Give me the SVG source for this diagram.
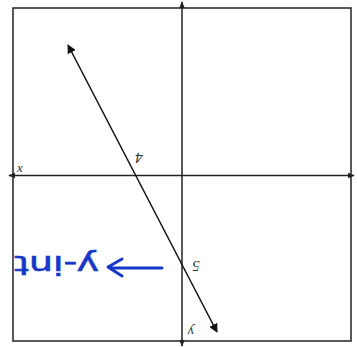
<svg xmlns="http://www.w3.org/2000/svg" width="357" height="347" viewBox="0 0 357 347">
<style>
.ax{stroke:#222;stroke-width:1.5;fill:none}
.lbl{font-family:"Liberation Serif",serif;font-style:italic;fill:#333}
.hand{font-family:"DejaVu Sans",sans-serif;fill:#1638c8;stroke:#1638c8;stroke-width:0.6}
</style>
<defs>
<marker id="ah" viewBox="0 0 10 10" refX="9" refY="5" markerWidth="7" markerHeight="7" orient="auto-start-reverse" markerUnits="userSpaceOnUse">
<path d="M0,1 L10,5 L0,9 z" fill="#222"/>
</marker>
<marker id="bh" viewBox="0 0 10 10" refX="9" refY="5" markerWidth="9" markerHeight="9" orient="auto-start-reverse" markerUnits="userSpaceOnUse">
<path d="M0,0 L10,5 L0,10 z" fill="#111"/>
</marker>
</defs>
<rect x="0" y="0" width="357" height="347" fill="#fff"/>
<g id="frame">
<rect x="13" y="8" width="338" height="333" class="ax" stroke-width="1.3"/>
</g>
<g id="axes">
<line x1="9" y1="175.5" x2="354" y2="175.5" class="ax" marker-start="url(#ah)" marker-end="url(#ah)"/>
<line x1="182" y1="2" x2="182" y2="346" class="ax" marker-start="url(#ah)" marker-end="url(#ah)"/>
</g>
<g id="connectors">
<line x1="68" y1="45" x2="217" y2="332" stroke="#111" stroke-width="1.5" marker-start="url(#bh)" marker-end="url(#bh)"/>
<path d="M162,268 L110,268 M122,259 L108,267 L122,276" stroke="#1638c8" stroke-width="3" fill="none" stroke-linecap="round" stroke-linejoin="round"/>
</g>
<g id="labels">
<text class="lbl" x="17" y="172" font-size="13">x</text>
<text class="lbl" font-size="15" transform="translate(139,153) rotate(180)" text-anchor="middle">4</text>
<text class="lbl" font-size="15" transform="translate(196,261) rotate(180)" text-anchor="middle">5</text>
<text class="lbl" font-size="14" transform="translate(191,327) rotate(180)" text-anchor="middle">y</text>
<text class="hand" font-size="27" transform="translate(99,256) rotate(180)" textLength="85" lengthAdjust="spacingAndGlyphs">y-int</text>
</g>
</svg>
